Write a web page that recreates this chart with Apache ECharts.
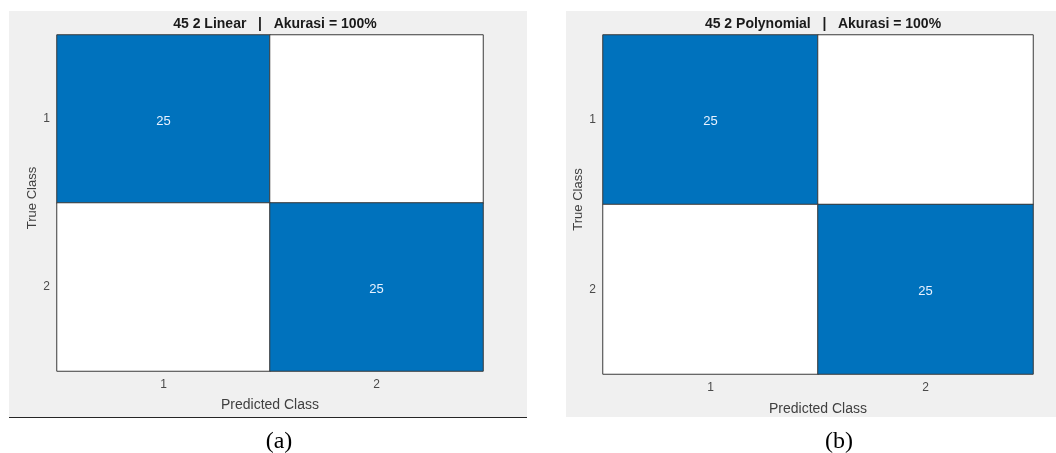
<!DOCTYPE html>
<html><head><meta charset="utf-8">
<script src="https://cdn.jsdelivr.net/npm/echarts@6/dist/echarts.min.js"></script>
<style>html,body{margin:0;padding:0;background:#fff}#c{width:1056px;height:453px}</style>
</head><body><div id="c"></div>
<script>
const predictedClasses = ['1', '2'];
const trueClasses = ['1', '2'];
// confusion matrices: rows = true class, cols = predicted class
const linearMatrix = [[25, 0], [0, 25]];
const polyMatrix = [[25, 0], [0, 25]];
const titles = ['45 2 Linear   |   Akurasi = 100%', '45 2 Polynomial   |   Akurasi = 100%'];
const captions = ['(a)', '(b)'];

function toCells(m) {
  const out = [];
  m.forEach((row, r) => row.forEach((v, c) => out.push([c, r, v])));
  return out;
}

const FONT = 'Liberation Sans';
const grids = [
  { left: 57, top: 35, width: 426, height: 336 },
  { left: 603, top: 35, width: 430, height: 339 }
];

const chart = echarts.init(document.getElementById('c'));
const axisCommon = {
  type: 'category',
  axisLine: { show: false },
  axisTick: { show: false },
  splitLine: { show: false },
  axisLabel: { color: '#4a4a4a', fontSize: 12, fontFamily: FONT }
};

const option = {
  backgroundColor: '#fff',
  animation: false,
  graphic: [
    { type: 'rect', shape: { x: 9, y: 11, width: 518, height: 406 }, style: { fill: '#f0f0f0' }, z: -10 },
    { type: 'line', shape: { x1: 9, y1: 417.5, x2: 527, y2: 417.5 }, style: { stroke: '#262626', lineWidth: 1 }, z: -9 },
    { type: 'rect', shape: { x: 566, y: 11, width: 490, height: 406 }, style: { fill: '#f0f0f0' }, z: -10 }
  ],
  title: [
    { text: titles[0], left: 270, top: 12, textAlign: 'center', textStyle: { fontFamily: FONT, fontSize: 14, fontWeight: 'bold', color: '#1a1a1a' } },
    { text: titles[1], left: 818, top: 12, textAlign: 'center', textStyle: { fontFamily: FONT, fontSize: 14, fontWeight: 'bold', color: '#1a1a1a' } },
    { text: captions[0], left: 274, top: 425, textAlign: 'center', textStyle: { fontFamily: 'Liberation Serif', fontSize: 24, fontWeight: 'normal', color: '#000' } },
    { text: captions[1], left: 834, top: 425, textAlign: 'center', textStyle: { fontFamily: 'Liberation Serif', fontSize: 24, fontWeight: 'normal', color: '#000' } }
  ],
  grid: grids,
  xAxis: [0, 1].map(i => Object.assign({}, axisCommon, {
    gridIndex: i, data: predictedClasses, name: 'Predicted Class',
    nameLocation: 'middle', nameGap: i === 0 ? 27 : 28,
    nameTextStyle: { color: '#404040', fontSize: 14, fontFamily: FONT },
    axisLabel: Object.assign({}, axisCommon.axisLabel, { margin: 8 })
  })),
  yAxis: [0, 1].map(i => Object.assign({}, axisCommon, {
    gridIndex: i, data: trueClasses, inverse: true, name: 'True Class',
    nameLocation: 'middle', nameGap: 18,
    nameTextStyle: { color: '#404040', fontSize: 13, fontFamily: FONT, padding: [0, 0, 0, 10] },
    axisLabel: Object.assign({}, axisCommon.axisLabel, { margin: 7, padding: [5, 0, 0, 0] })
  })),
  visualMap: {
    show: false, type: 'piecewise', seriesIndex: [0, 1], dimension: 2,
    pieces: [{ max: 0.5, color: '#ffffff' }, { min: 0.5, color: '#0072BD' }]
  },
  series: [linearMatrix, polyMatrix].map((m, i) => ({
    type: 'heatmap',
    xAxisIndex: i, yAxisIndex: i,
    data: toCells(m),
    itemStyle: { borderColor: '#3a3a3a', borderWidth: 1 },
    label: {
      show: true, color: '#e8f2ff', fontSize: 13, fontFamily: FONT, offset: [0, 2],
      formatter: p => (p.value[2] ? String(p.value[2]) : '')
    },
    emphasis: { disabled: true }
  }))
};
chart.setOption(option);
</script>
</body></html>
